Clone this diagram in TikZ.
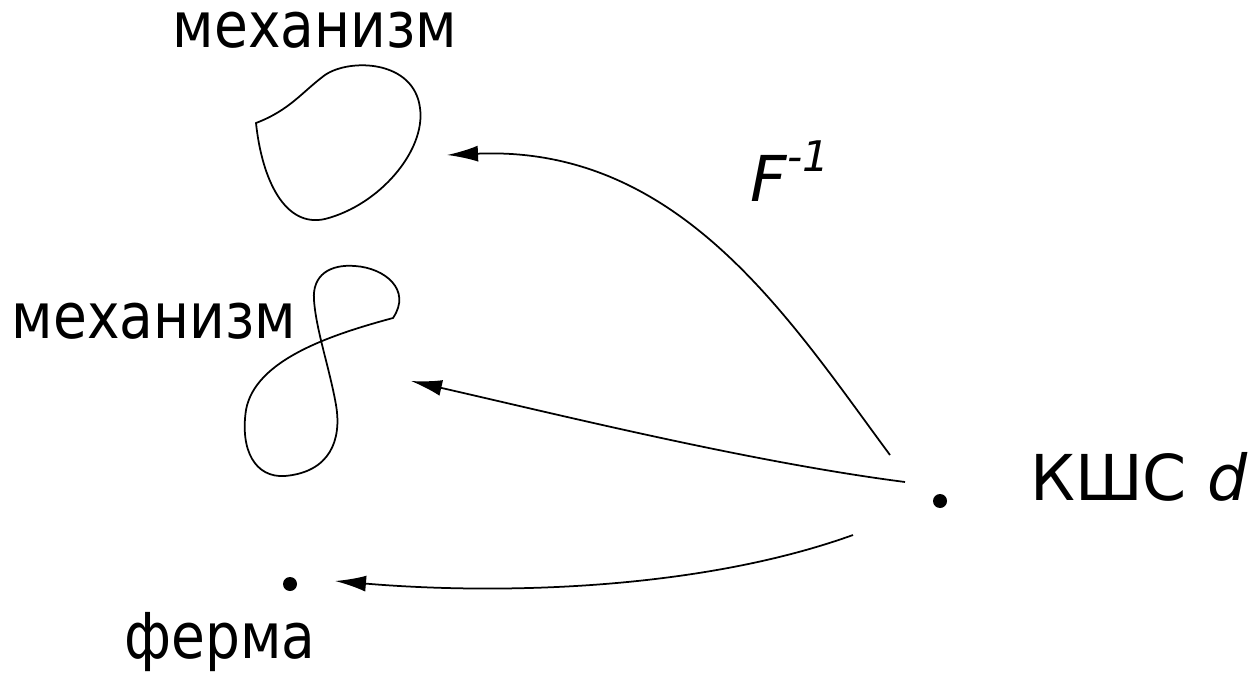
\documentclass[tikz,border=0pt]{standalone}
\usepackage{fontspec}
\setmainfont{DejaVu Sans}
\newfontfamily\narrowfont[FakeStretch=0.87]{DejaVu Sans}
\usepackage{tikz}
\usetikzlibrary{arrows.meta,positioning}
\tikzset{
  lbl/.style={inner sep=0pt, anchor=base, font=\fontsize{36}{40}\selectfont},
  word/.style={lbl, font=\fontsize{36}{40}\narrowfont},
  mapto/.style={-{Latex[length=6.2mm,width=3.2mm]}, line width=0.35mm},
  pt/.style={circle, fill=black, inner sep=0pt, minimum size=2.8mm},
}
\begin{document}
\begin{tikzpicture}[x=0.2mm,y=-0.2mm]
\useasboundingbox (0,0) rectangle (1257,675);
% labels
\node[word] (mechA) at (315,48) {механизм};
\node[word] (mechB) at (154,338) {механизм};
\node[word] (truss) at (220,658) {ферма};
\node[lbl, anchor=base west] (ksc) at (1030,500) {КШС \textit{d}};
\node[lbl, anchor=base west] (finv) at (750,202)
  {\textit{F}\raisebox{6mm}{\fontsize{24}{24}\selectfont\itshape -1}};
% points
\node[pt] (d) at (940,501) {};
\node[pt] (p) at (290,584) {};
% first mechanism
\draw[line width=0.35mm] (256,123) .. controls (290,110) and (302,92) .. (325,75)
  .. controls (350,58) and (414,60) .. (420,108)
  .. controls (426,150) and (380,205) .. (325,219)
  .. controls (285,228) and (262,180) .. (256,123) -- cycle;
% second mechanism
\draw[line width=0.35mm] (393,318) .. controls (330,335) and (255,360) .. (246,410)
  .. controls (240,450) and (255,478) .. (285,476)
  .. controls (330,472) and (342,440) .. (336,405)
  .. controls (330,370) and (316,330) .. (314,300)
  .. controls (312,275) and (330,264) .. (355,266)
  .. controls (385,268) and (412,290) .. (393,318) -- cycle;
% arrows
\coordinate (a1) at (890,455);
\coordinate (a2) at (905,482);
\coordinate (a3) at (853,535);
\coordinate (t1) at (447,155);
\coordinate (t2) at (411,381);
\coordinate (t3) at (335,581);
\draw[mapto] (a1) .. controls (790,320) and (680,145) .. (t1);
\draw[mapto] (a2) .. controls (750,462) and (560,415) .. (t2);
\draw[mapto] (a3) .. controls (700,590) and (500,595) .. (t3);
\end{tikzpicture}
\end{document}
